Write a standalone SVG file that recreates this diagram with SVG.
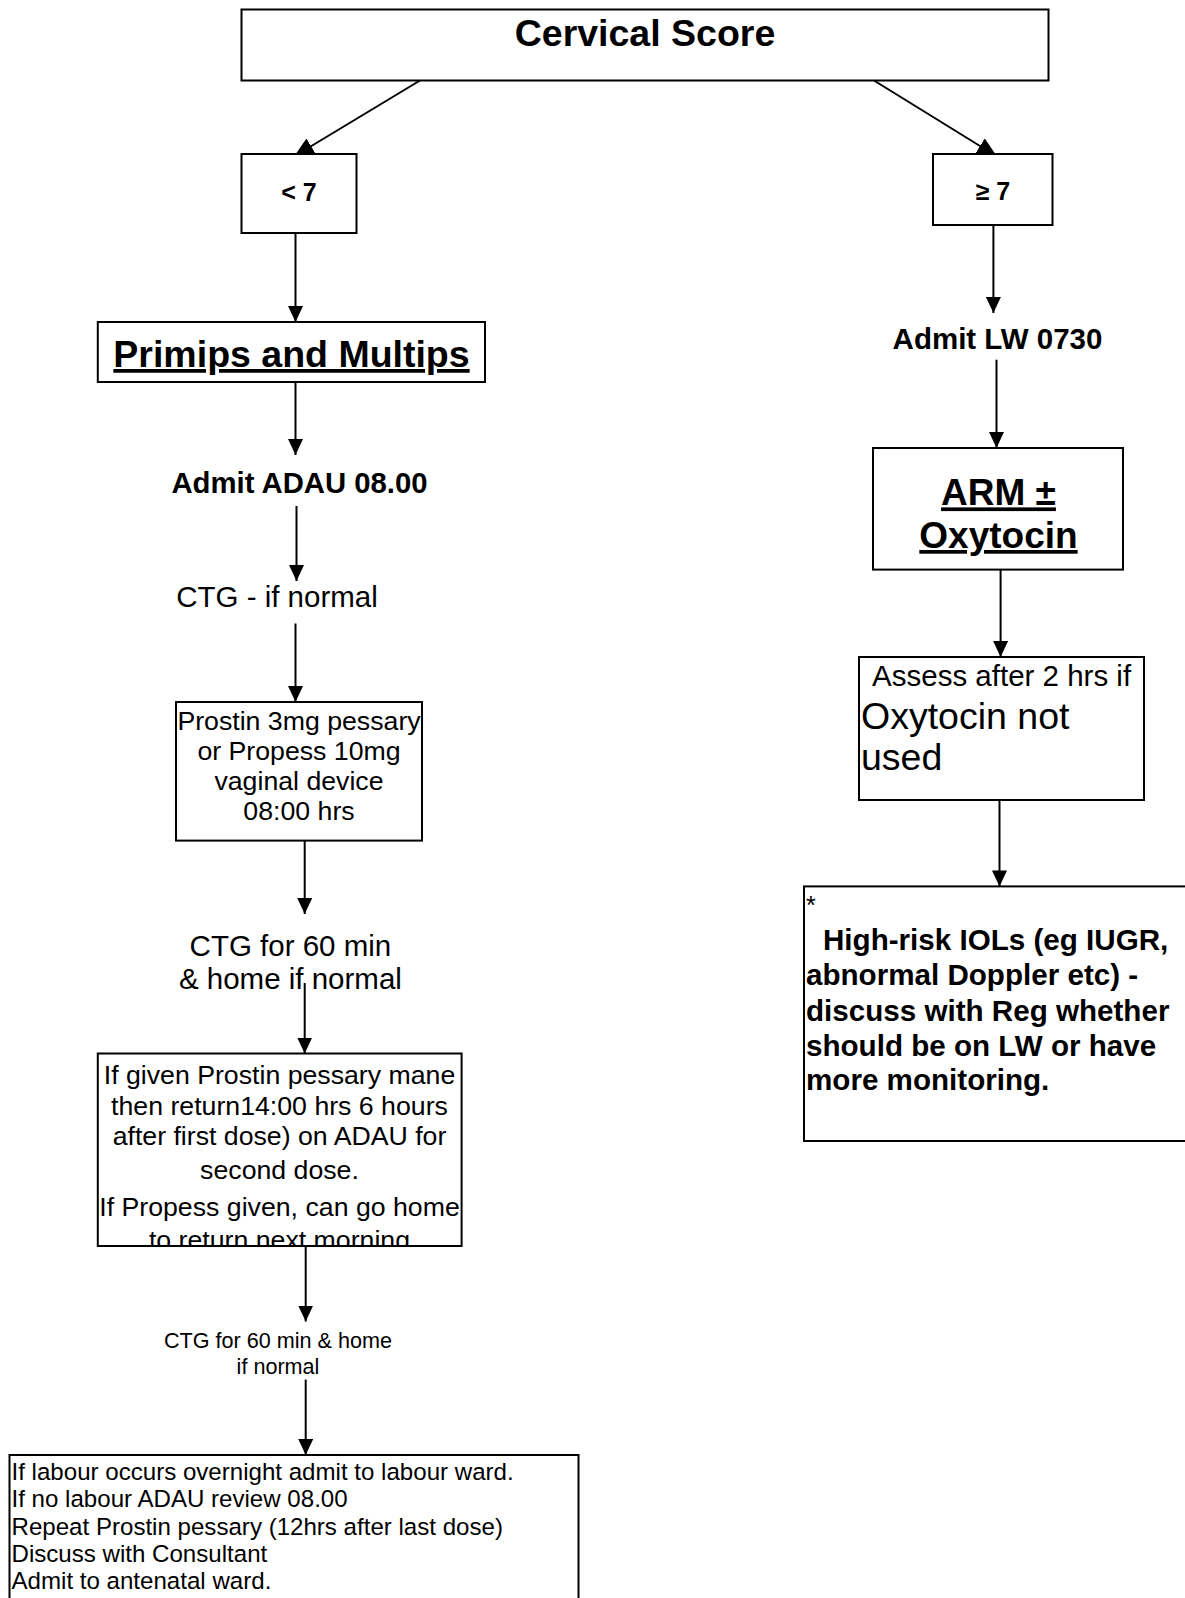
<svg xmlns="http://www.w3.org/2000/svg" width="1185" height="1598" viewBox="0 0 1185 1598">
<defs>
<style>
.box{fill:#fff;stroke:#000;stroke-width:2}
.t{font-family:"Liberation Sans",Arial,sans-serif;fill:#000}
.b{font-weight:bold}
.c{text-anchor:middle}
.u{text-decoration:underline}
.ln{stroke:#000;stroke-width:2;fill:none;marker-end:url(#ah)}
.dg{stroke:#000;stroke-width:2;fill:none;marker-end:url(#ahd)}
</style>
<marker id="ah" markerUnits="userSpaceOnUse" viewBox="0 0 16 15" markerWidth="16" markerHeight="15" refX="16" refY="7.5" orient="auto">
<path d="M0,0 L16,7.5 L0,15 z" fill="#000"/>
</marker>
<marker id="ahd" markerUnits="userSpaceOnUse" viewBox="0 0 20 18" markerWidth="20" markerHeight="18" refX="20" refY="9" orient="auto">
<path d="M0,0 L20,9 L0,18 z" fill="#000"/>
</marker>
<clipPath id="clipGiven"><rect x="97.8" y="1053.5" width="364" height="192.5"/></clipPath>
</defs>
<rect width="1185" height="1598" fill="#fff"/>

<g id="connectors">
<line class="dg" x1="420" y1="80.5" x2="294" y2="156.5"/>
<line class="dg" x1="874" y1="80.5" x2="997" y2="156.5"/>
<line class="ln" x1="295.5" y1="233" x2="295.5" y2="322"/>
<line class="ln" x1="295.5" y1="382" x2="295.5" y2="455"/>
<line class="ln" x1="296.5" y1="506" x2="296.5" y2="581"/>
<line class="ln" x1="295.5" y1="623.5" x2="295.5" y2="702"/>
<line class="ln" x1="304.7" y1="840.6" x2="304.7" y2="914"/>
<line class="ln" x1="304.7" y1="983" x2="304.7" y2="1053.5"/>
<line class="ln" x1="305.7" y1="1246" x2="305.7" y2="1321.5"/>
<line class="ln" x1="305.7" y1="1379.6" x2="305.7" y2="1455"/>
<line class="ln" x1="993.4" y1="225" x2="993.4" y2="313"/>
<line class="ln" x1="996.5" y1="359.7" x2="996.5" y2="448"/>
<line class="ln" x1="1000.6" y1="569.6" x2="1000.6" y2="657"/>
<line class="ln" x1="999.5" y1="800" x2="999.5" y2="886.4"/>
</g>

<g id="cervical">
<rect class="box" x="241.5" y="9.5" width="807" height="71"/>
<text class="t b c" x="645" y="46" font-size="37.5">Cervical Score</text>
</g>

<g id="lt7">
<rect class="box" x="241.5" y="154" width="115" height="79"/>
<text class="t b c" x="299" y="201" font-size="25">&lt; 7</text>
</g>

<g id="ge7">
<rect class="box" x="933" y="154" width="119.5" height="71"/>
<text class="t b c" x="993" y="200" font-size="25">≥ 7</text>
</g>

<g id="primips">
<rect class="box" x="97.8" y="322" width="387.2" height="60"/>
<text class="t b c u" x="291.5" y="367" font-size="37.5">Primips and Multips</text>
</g>

<g id="admitADAU">
<text class="t b c" x="299.5" y="493" font-size="29.3">Admit ADAU 08.00</text>
</g>

<g id="ctgNormal">
<text class="t c" x="277" y="607" font-size="29.5">CTG - if normal</text>
</g>

<g id="prostin">
<rect class="box" x="176" y="702" width="246" height="138.6"/>
<text class="t c" font-size="26.7"><tspan x="299" y="729.5">Prostin 3mg pessary</tspan><tspan x="299" y="760">or Propess 10mg</tspan><tspan x="299" y="789.6">vaginal device</tspan><tspan x="299" y="820">08:00 hrs</tspan></text>
</g>

<g id="ctg60a">
<text class="t c" font-size="29.5"><tspan x="290.4" y="955.7">CTG for 60 min</tspan><tspan x="290.4" y="989.4">&amp; home if normal</tspan></text>
</g>

<g id="ifGiven">
<rect class="box" x="97.8" y="1053.5" width="363.8" height="192.5"/>
<g clip-path="url(#clipGiven)">
<text class="t c" font-size="26.7"><tspan x="279.5" y="1084">If given Prostin pessary mane</tspan><tspan x="279.5" y="1114.7">then return14:00 hrs 6 hours</tspan><tspan x="279.5" y="1145">after first dose) on ADAU for</tspan><tspan x="279.5" y="1179">second dose.</tspan><tspan x="279.5" y="1215.5">If Propess given, can go home</tspan><tspan x="279.5" y="1249">to return next morning</tspan></text>
</g>
<line x1="97.8" y1="1246" x2="461.6" y2="1246" stroke="#000" stroke-width="2"/>
</g>

<g id="ctg60b">
<text class="t c" font-size="21.6"><tspan x="278" y="1348">CTG for 60 min &amp; home</tspan><tspan x="278" y="1373.5">if normal</tspan></text>
</g>

<g id="labour">
<rect class="box" x="9.5" y="1455" width="569" height="160"/>
<text class="t" font-size="24.1"><tspan x="11.5" y="1479.5">If labour occurs overnight admit to labour ward.</tspan><tspan x="11.5" y="1507">If no labour ADAU review 08.00</tspan><tspan x="11.5" y="1534.5">Repeat Prostin pessary (12hrs after last dose)</tspan><tspan x="11.5" y="1562">Discuss with Consultant</tspan><tspan x="11.5" y="1588.5">Admit to antenatal ward.</tspan></text>
</g>

<g id="admitLW">
<text class="t b c" x="997.5" y="348.5" font-size="29.5">Admit LW 0730</text>
</g>

<g id="arm">
<rect class="box" x="873" y="448" width="250" height="121.6"/>
<text class="t b c u" font-size="37"><tspan x="998.5" y="505.4">ARM ±</tspan><tspan x="998.5" y="548">Oxytocin</tspan></text>
</g>

<g id="assess">
<rect class="box" x="859" y="657" width="285" height="143"/>
<text class="t c" x="1001.6" y="685.7" font-size="29.5">Assess after 2 hrs if</text>
<text class="t" font-size="37.5"><tspan x="861" y="728.5">Oxytocin not</tspan><tspan x="861" y="770">used</tspan></text>
</g>

<g id="highrisk">
<rect class="box" x="804" y="886.4" width="400" height="254.6"/>
<text class="t" x="806" y="914" font-size="25">*</text>
<text class="t b" font-size="29.6"><tspan x="823" y="949.6">High-risk IOLs (eg IUGR,</tspan><tspan x="806" y="985">abnormal Doppler etc) -</tspan><tspan x="806" y="1021">discuss with Reg whether</tspan><tspan x="806" y="1055.6">should be on LW or have</tspan><tspan x="806" y="1090">more monitoring.</tspan></text>
</g>
</svg>
